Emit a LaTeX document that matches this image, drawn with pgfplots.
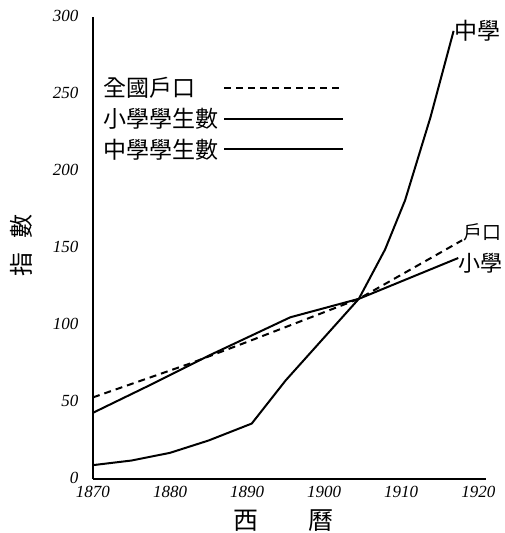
\documentclass[border=0pt]{standalone}
\usepackage{fontspec}
\setmainfont{Liberation Serif}
\newfontfamily\cjk{Noto Sans CJK TC}
\usepackage{pgfplots}
\pgfplotsset{compat=1.18}

\begin{document}
\begin{tikzpicture}
\path[use as bounding box] (-93pt,-54pt) rectangle (411pt,479pt);
\begin{axis}[
  at={(0pt,0pt)}, anchor=south west,
  scale only axis, width=393pt, height=462pt,
  xmin=1870, xmax=1921, ymin=0, ymax=300,
  axis x line=bottom, axis y line=left,
  axis line style={-, line width=2.2pt},
  major tick length=0pt,
  xtick={1870,1880,...,1920}, ytick={0,50,...,300},
  /pgf/number format/assume math mode=true,
  /pgf/number format/1000 sep={},
  tick label style={font=\fontsize{17}{17}\selectfont\itshape},
  yticklabel style={xshift=-11pt, yshift=1pt},
  xticklabel style={yshift=-4pt},
  every axis x label/.style={at={(axis description cs:0.486,-0.089)}, anchor=center},
  every axis y label/.style={at={(axis description cs:-0.182,0.506)}, rotate=90, anchor=center},
  xlabel={\cjk\fontsize{25}{26}\selectfont 西\hspace{50pt}曆},
  ylabel={\cjk\fontsize{24}{26}\selectfont 指\hspace{14pt}數},
  clip=false,
  legend plot pos=right,
  legend cell align=left,
  legend image code/.code={\draw[#1] (4pt,0pt) -- (123pt,0pt);},
  legend style={draw=none, fill=none, at={(axis description cs:0.005,0.885)}, anchor=north west,
    font=\cjk\fontsize{23}{24}\selectfont, row sep=0pt,
    nodes={inner sep=5pt}},
]
\addplot[black, line width=2pt, dash pattern=on 7pt off 5pt] coordinates {
  (1870,53) (1882.6,75) (1890,89) (1904.5,117) (1917.9,155)};
\addlegendentry{全國戶口}
\addplot[black, line width=2pt] coordinates {
  (1870,43) (1877.4,61) (1885.2,80.5) (1895.6,105) (1904.5,117) (1917.4,143.5)};
\addlegendentry{小學學生數}
\addplot[black, line width=2pt] coordinates {
  (1870,9) (1875,12) (1880,17) (1885,25) (1890.6,36) (1895,64) (1904.5,117)
  (1907.9,149) (1910.5,181) (1913.8,235) (1916.8,291)};
\addlegendentry{中學學生數}
\node[anchor=west, inner sep=0pt, font=\cjk\fontsize{23}{24}\selectfont] at (axis cs:1916.9,291) {中學};
\node[anchor=west, inner sep=0pt, font=\cjk\fontsize{19}{20}\selectfont] at (axis cs:1918,160) {戶口};
\node[anchor=west, inner sep=0pt, font=\cjk\fontsize{22}{24}\selectfont] at (axis cs:1917.4,140) {小學};
\end{axis}
\end{tikzpicture}
\end{document}
